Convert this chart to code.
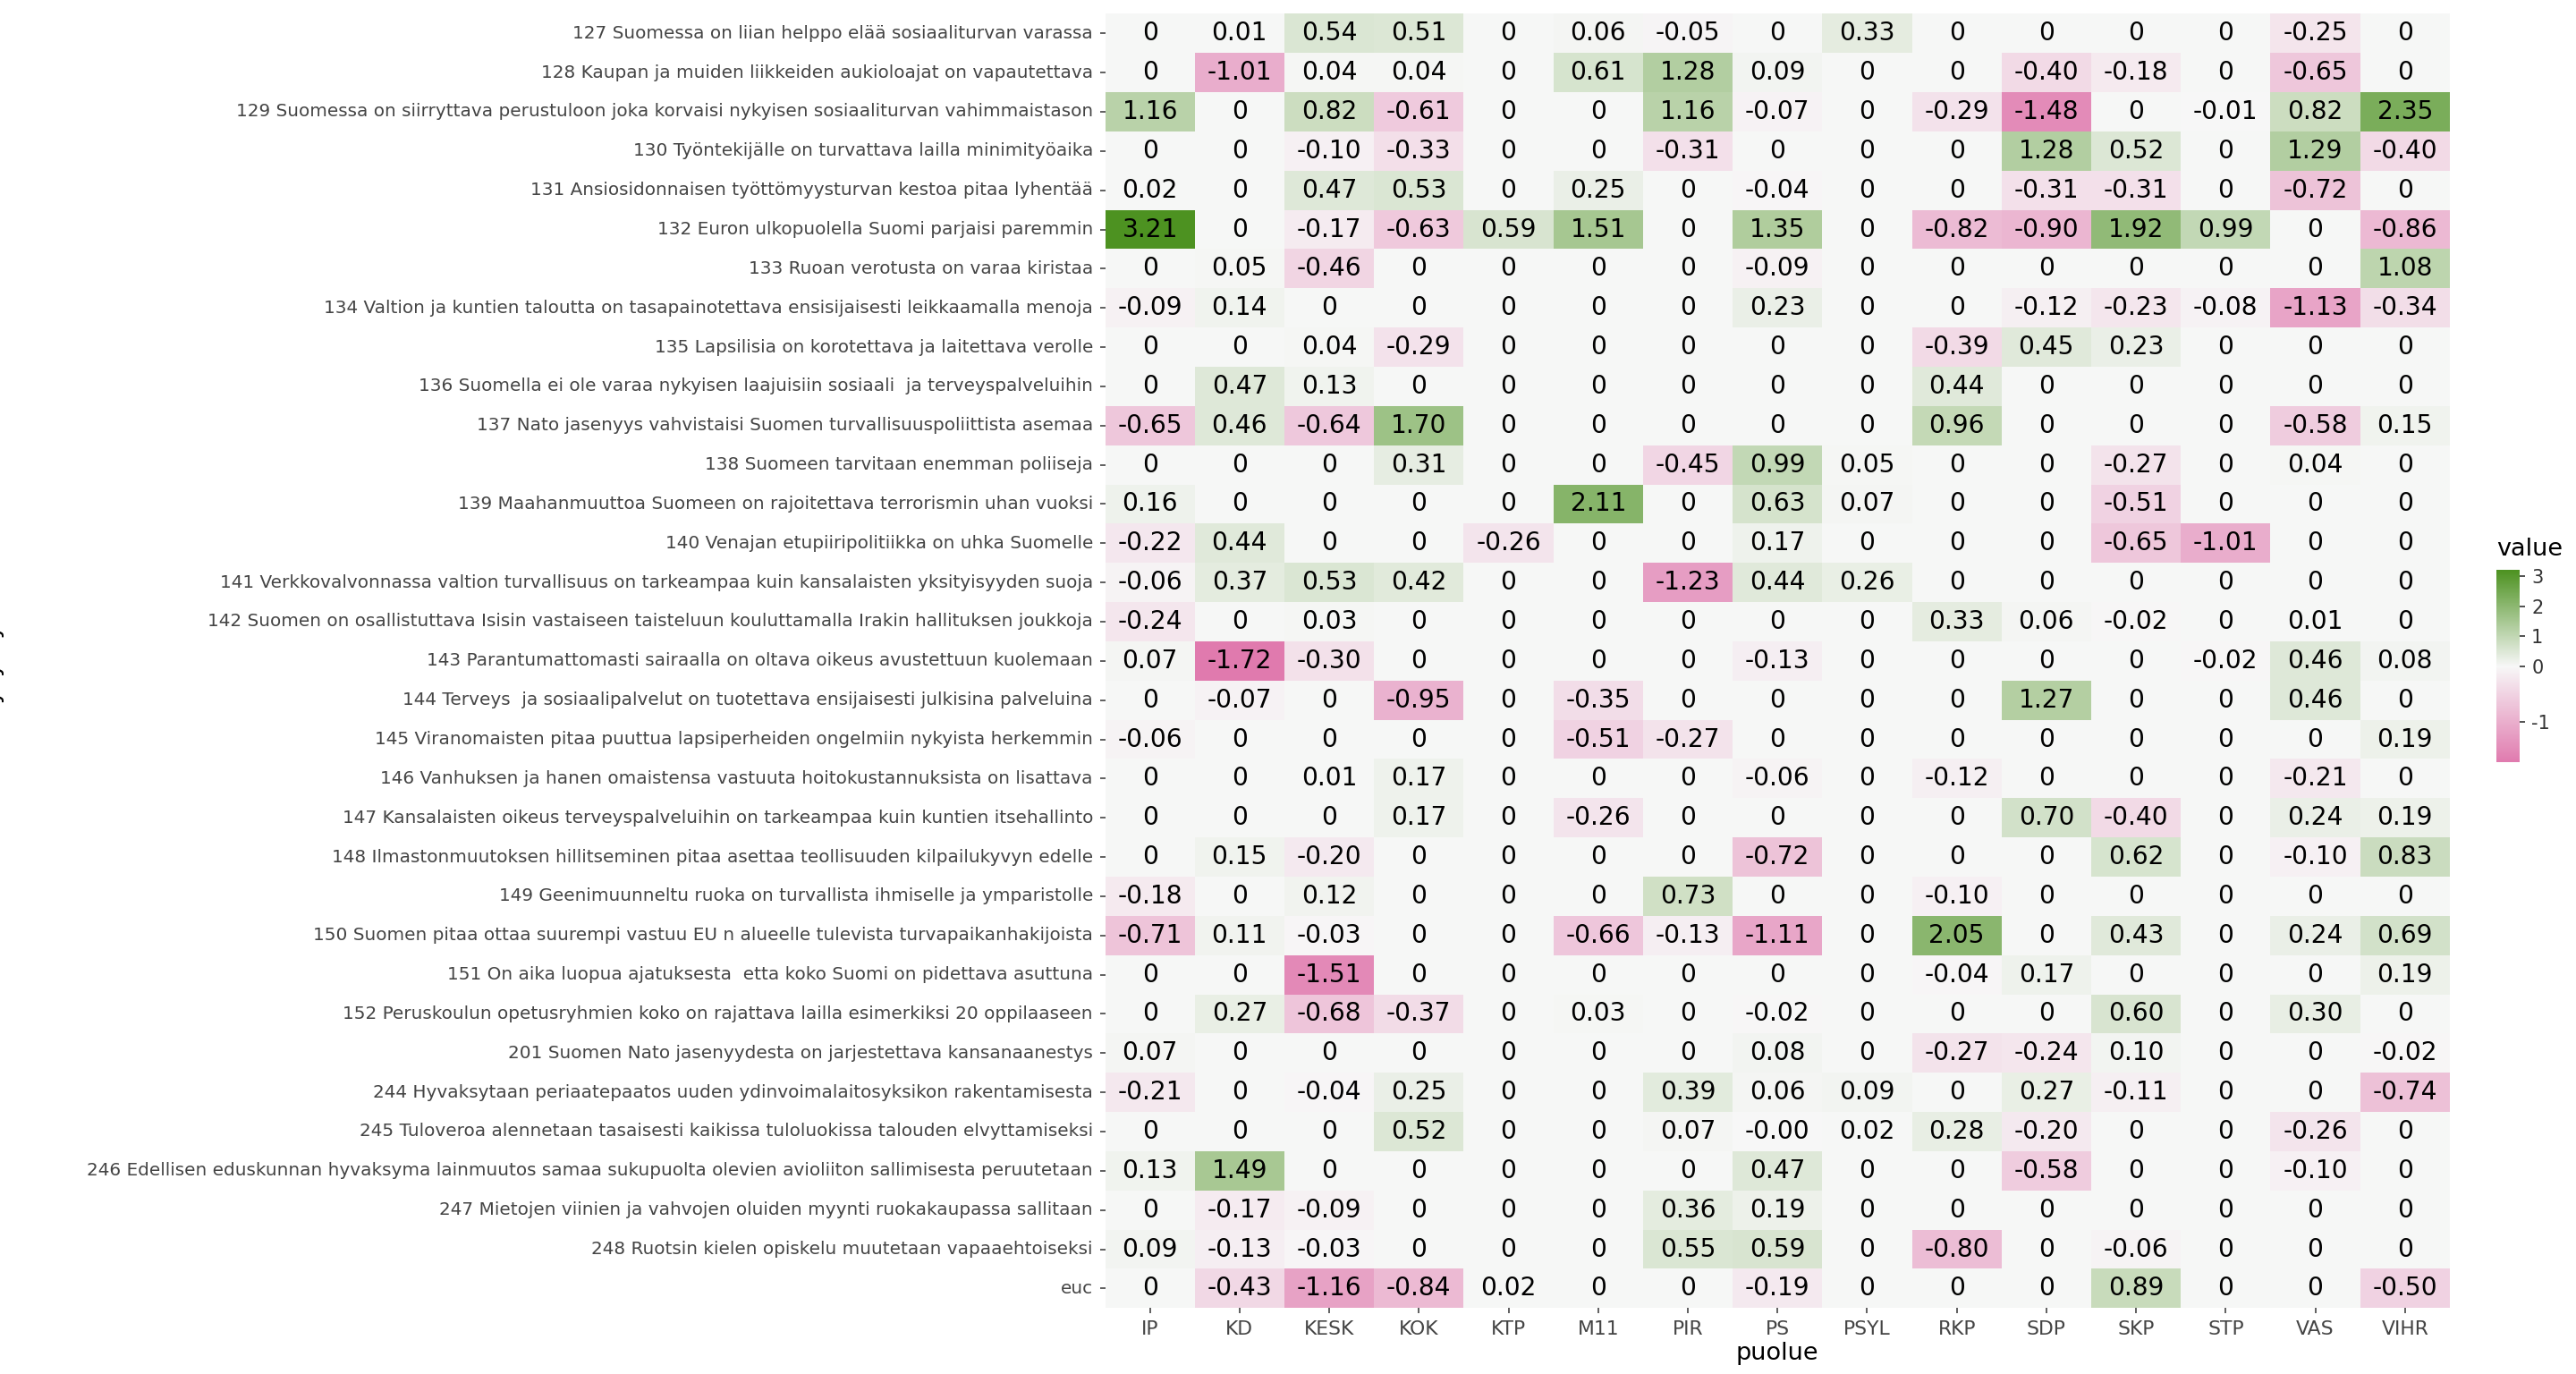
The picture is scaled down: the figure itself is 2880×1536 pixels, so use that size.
import numpy as np, pandas as pd, seaborn as sns, matplotlib
matplotlib.use("Agg")
import matplotlib.pyplot as plt
from matplotlib.colors import LinearSegmentedColormap, TwoSlopeNorm
plt.rcParams["axes.unicode_minus"] = False

parties = ["IP","KD","KESK","KOK","KTP","M11","PIR","PS","PSYL","RKP","SDP","SKP","STP","VAS","VIHR"]
questions = [
"127 Suomessa on liian helppo elää sosiaaliturvan varassa",
"128 Kaupan ja muiden liikkeiden aukioloajat on vapautettava",
"129 Suomessa on siirryttava perustuloon joka korvaisi nykyisen sosiaaliturvan vahimmaistason",
"130 Työntekijälle on turvattava lailla minimityöaika",
"131 Ansiosidonnaisen työttömyysturvan kestoa pitaa lyhentää",
"132 Euron ulkopuolella Suomi parjaisi paremmin",
"133 Ruoan verotusta on varaa kiristaa",
"134 Valtion ja kuntien taloutta on tasapainotettava ensisijaisesti leikkaamalla menoja",
"135 Lapsilisia on korotettava ja laitettava verolle",
"136 Suomella ei ole varaa nykyisen laajuisiin sosiaali  ja terveyspalveluihin",
"137 Nato jasenyys vahvistaisi Suomen turvallisuuspoliittista asemaa",
"138 Suomeen tarvitaan enemman poliiseja",
"139 Maahanmuuttoa Suomeen on rajoitettava terrorismin uhan vuoksi",
"140 Venajan etupiiripolitiikka on uhka Suomelle",
"141 Verkkovalvonnassa valtion turvallisuus on tarkeampaa kuin kansalaisten yksityisyyden suoja",
"142 Suomen on osallistuttava Isisin vastaiseen taisteluun kouluttamalla Irakin hallituksen joukkoja",
"143 Parantumattomasti sairaalla on oltava oikeus avustettuun kuolemaan",
"144 Terveys  ja sosiaalipalvelut on tuotettava ensijaisesti julkisina palveluina",
"145 Viranomaisten pitaa puuttua lapsiperheiden ongelmiin nykyista herkemmin",
"146 Vanhuksen ja hanen omaistensa vastuuta hoitokustannuksista on lisattava",
"147 Kansalaisten oikeus terveyspalveluihin on tarkeampaa kuin kuntien itsehallinto",
"148 Ilmastonmuutoksen hillitseminen pitaa asettaa teollisuuden kilpailukyvyn edelle",
"149 Geenimuunneltu ruoka on turvallista ihmiselle ja ymparistolle",
"150 Suomen pitaa ottaa suurempi vastuu EU n alueelle tulevista turvapaikanhakijoista",
"151 On aika luopua ajatuksesta  etta koko Suomi on pidettava asuttuna",
"152 Peruskoulun opetusryhmien koko on rajattava lailla esimerkiksi 20 oppilaaseen",
"201 Suomen Nato jasenyydesta on jarjestettava kansanaanestys",
"244 Hyvaksytaan periaatepaatos uuden ydinvoimalaitosyksikon rakentamisesta",
"245 Tuloveroa alennetaan tasaisesti kaikissa tuloluokissa talouden elvyttamiseksi",
"246 Edellisen eduskunnan hyvaksyma lainmuutos samaa sukupuolta olevien avioliiton sallimisesta peruutetaan",
"247 Mietojen viinien ja vahvojen oluiden myynti ruokakaupassa sallitaan",
"248 Ruotsin kielen opiskelu muutetaan vapaaehtoiseksi",
"euc",
]
values = [
[0,0.01,0.54,0.51,0,0.06,-0.05,0,0.33,0,0,0,0,-0.25,0],
[0,-1.01,0.04,0.04,0,0.61,1.28,0.09,0,0,-0.40,-0.18,0,-0.65,0],
[1.16,0,0.82,-0.61,0,0,1.16,-0.07,0,-0.29,-1.48,0,-0.01,0.82,2.35],
[0,0,-0.10,-0.33,0,0,-0.31,0,0,0,1.28,0.52,0,1.29,-0.40],
[0.02,0,0.47,0.53,0,0.25,0,-0.04,0,0,-0.31,-0.31,0,-0.72,0],
[3.21,0,-0.17,-0.63,0.59,1.51,0,1.35,0,-0.82,-0.90,1.92,0.99,0,-0.86],
[0,0.05,-0.46,0,0,0,0,-0.09,0,0,0,0,0,0,1.08],
[-0.09,0.14,0,0,0,0,0,0.23,0,0,-0.12,-0.23,-0.08,-1.13,-0.34],
[0,0,0.04,-0.29,0,0,0,0,0,-0.39,0.45,0.23,0,0,0],
[0,0.47,0.13,0,0,0,0,0,0,0.44,0,0,0,0,0],
[-0.65,0.46,-0.64,1.70,0,0,0,0,0,0.96,0,0,0,-0.58,0.15],
[0,0,0,0.31,0,0,-0.45,0.99,0.05,0,0,-0.27,0,0.04,0],
[0.16,0,0,0,0,2.11,0,0.63,0.07,0,0,-0.51,0,0,0],
[-0.22,0.44,0,0,-0.26,0,0,0.17,0,0,0,-0.65,-1.01,0,0],
[-0.06,0.37,0.53,0.42,0,0,-1.23,0.44,0.26,0,0,0,0,0,0],
[-0.24,0,0.03,0,0,0,0,0,0,0.33,0.06,-0.02,0,0.01,0],
[0.07,-1.72,-0.30,0,0,0,0,-0.13,0,0,0,0,-0.02,0.46,0.08],
[0,-0.07,0,-0.95,0,-0.35,0,0,0,0,1.27,0,0,0.46,0],
[-0.06,0,0,0,0,-0.51,-0.27,0,0,0,0,0,0,0,0.19],
[0,0,0.01,0.17,0,0,0,-0.06,0,-0.12,0,0,0,-0.21,0],
[0,0,0,0.17,0,-0.26,0,0,0,0,0.70,-0.40,0,0.24,0.19],
[0,0.15,-0.20,0,0,0,0,-0.72,0,0,0,0.62,0,-0.10,0.83],
[-0.18,0,0.12,0,0,0,0.73,0,0,-0.10,0,0,0,0,0],
[-0.71,0.11,-0.03,0,0,-0.66,-0.13,-1.11,0,2.05,0,0.43,0,0.24,0.69],
[0,0,-1.51,0,0,0,0,0,0,-0.04,0.17,0,0,0,0.19],
[0,0.27,-0.68,-0.37,0,0.03,0,-0.02,0,0,0,0.60,0,0.30,0],
[0.07,0,0,0,0,0,0,0.08,0,-0.27,-0.24,0.10,0,0,-0.02],
[-0.21,0,-0.04,0.25,0,0,0.39,0.06,0.09,0,0.27,-0.11,0,0,-0.74],
[0,0,0,0.52,0,0,0.07,-0.001,0.02,0.28,-0.20,0,0,-0.26,0],
[0.13,1.49,0,0,0,0,0,0.47,0,0,-0.58,0,0,-0.10,0],
[0,-0.17,-0.09,0,0,0,0.36,0.19,0,0,0,0,0,0,0],
[0.09,-0.13,-0.03,0,0,0,0.55,0.59,0,-0.80,0,-0.06,0,0,0],
[0,-0.43,-1.16,-0.84,0.02,0,0,-0.19,0,0,0,0.89,0,0,-0.50],
]
df = pd.DataFrame(values, index=questions, columns=parties)
annot = df.map(lambda v: "0" if v == 0 else f"{v:.2f}")

cmap = LinearSegmentedColormap.from_list("g2", ["#e07aae", "#f7f7f7", "#4d9221"])
norm = TwoSlopeNorm(vmin=-1.72, vcenter=0, vmax=3.21)

fig = plt.figure(figsize=(19.2, 10.24), dpi=150)
ax = fig.add_axes([0.429, 0.048, 0.522, 0.942])
cax = fig.add_axes([0.969, 0.445, 0.009, 0.14])
sns.heatmap(df, ax=ax, cmap=cmap, norm=norm, annot=annot, fmt="",
            annot_kws={"fontsize": 13.5, "color": "black"}, cbar_ax=cax)
cax.set_yticks([-1, 0, 1, 2, 3])
cax.tick_params(labelsize=10, length=3, colors="#333333")
cax.set_title("value", fontsize=13, loc="left", pad=8)
for s in cax.spines.values():
    s.set_visible(False)
ax.tick_params(axis="both", labelsize=9.6, colors="#444444", length=3)
ax.tick_params(axis="x", labelsize=10.5)
plt.setp(ax.get_xticklabels(), rotation=0)
plt.setp(ax.get_yticklabels(), rotation=0)
ax.set_xlabel("puolue", fontsize=13, labelpad=2)
ax.set_ylabel("kysymys", fontsize=13)
ax.yaxis.set_label_coords(-0.82, 0.5)
fig.savefig("out.png", dpi=150)
